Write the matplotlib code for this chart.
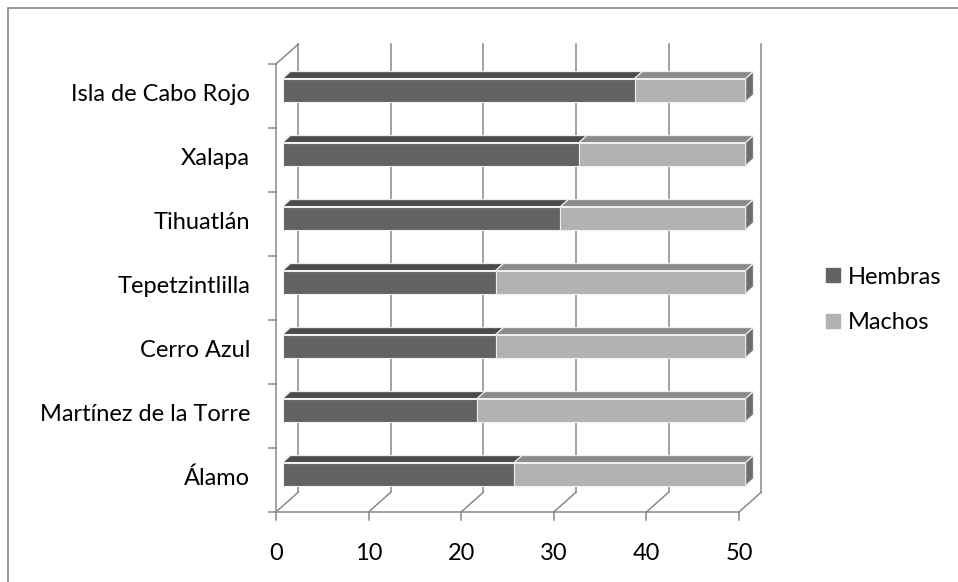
import matplotlib.pyplot as plt
from matplotlib.patches import Polygon, Rectangle
from matplotlib.lines import Line2D

# datos
categorias = ['Álamo', 'Martínez de la Torre', 'Cerro Azul', 'Tepetzintlilla',
              'Tihuatlán', 'Xalapa', 'Isla de Cabo Rojo']
hembras = [25, 21, 23, 23, 30, 32, 38]
machos = [25, 29, 27, 27, 20, 18, 12]
ticks_x = [0, 10, 20, 30, 40, 50]

plt.rcParams['font.family'] = ['Lato', 'DejaVu Sans']
fs = 17

fig = plt.figure(figsize=(9.58, 5.82), dpi=100)
ax = fig.add_axes([276 / 958, 70 / 582, 463 / 958, 448 / 582])
ax.set_xlim(0, 50)
ax.set_ylim(-0.5, 6.5)
ax.axis('off')

# profundidad del efecto 3D (en unidades de datos)
DX, DY = 2.4, 0.31
d0, d1 = 0.3, 0.65
h = 0.18
gris = '#898989'
lw = 1.1

# pared del fondo y suelo
for v in ticks_x:
    ax.plot([v + DX, v + DX], [-0.5 + DY, 6.5 + DY], color=gris, lw=lw, clip_on=False, zorder=1)
    ax.plot([v, v + DX], [-0.5, -0.5 + DY], color=gris, lw=lw, clip_on=False, zorder=1)
    ax.plot([v, v], [-0.5, -0.5 - 0.12], color=gris, lw=lw, clip_on=False, zorder=1)
    ax.text(v, -1.15, str(v), ha='center', va='center', fontsize=fs)
ax.plot([0, 50], [-0.5, -0.5], color=gris, lw=lw, clip_on=False, zorder=1)

# pared izquierda
ax.plot([0, 0], [-0.5, 6.5], color=gris, lw=lw, clip_on=False, zorder=1)
ax.plot([0, DX], [6.5, 6.5 + DY], color=gris, lw=lw, clip_on=False, zorder=1)
for i in range(len(categorias) + 1):
    ax.plot([-0.8, 0], [i - 0.5, i - 0.5], color=gris, lw=lw, clip_on=False, zorder=1)

# barras apiladas
series = [(hembras, '#636363', '#4b4b4b'), (machos, '#b2b2b2', '#8b8b8b')]
for i, cat in enumerate(categorias):
    izq = 0
    for k, (vals, c_front, c_top) in enumerate(series):
        a, b = izq, izq + vals[i]
        y0, y1 = i - h + d0 * DY, i + h + d0 * DY
        ax.add_patch(Rectangle((a + d0 * DX, y0), b - a, y1 - y0, facecolor=c_front,
                               edgecolor='#f0f0f0', lw=0.8, clip_on=False, zorder=3))
        top = [(a + d0 * DX, y1), (b + d0 * DX, y1),
               (b + d1 * DX, i + h + d1 * DY), (a + d1 * DX, i + h + d1 * DY)]
        ax.add_patch(Polygon(top, facecolor=c_top, edgecolor='#f0f0f0', lw=0.8,
                             clip_on=False, zorder=3))
        if k == len(series) - 1:
            lado = [(b + d0 * DX, y0), (b + d1 * DX, i - h + d1 * DY),
                    (b + d1 * DX, i + h + d1 * DY), (b + d0 * DX, y1)]
            ax.add_patch(Polygon(lado, facecolor='#6e6e6e', edgecolor='#f0f0f0', lw=0.8,
                                 clip_on=False, zorder=3))
        izq = b
    ax.text(-2.8, i + 0.03, cat, ha='right', va='center', fontsize=fs)

# leyenda
handles = [Line2D([], [], marker='s', ls='', color='#636363', markersize=9.5),
           Line2D([], [], marker='s', ls='', color='#b2b2b2', markersize=9.5)]
fig.legend(handles, ['Hembras', 'Machos'], loc='center left', frameon=False,
           bbox_to_anchor=(824 / 958, 1 - 300 / 582), fontsize=fs,
           labelspacing=1.05, handletextpad=0.2, handlelength=0.8,
           borderpad=0, borderaxespad=0)

# borde exterior
fig.add_artist(Rectangle((8 / 958, -0.02), 1.0, 1 - 8 / 582 + 0.02, transform=fig.transFigure,
                         fill=False, edgecolor='#868686', lw=1.2))

fig.savefig('out.png', dpi=100)
